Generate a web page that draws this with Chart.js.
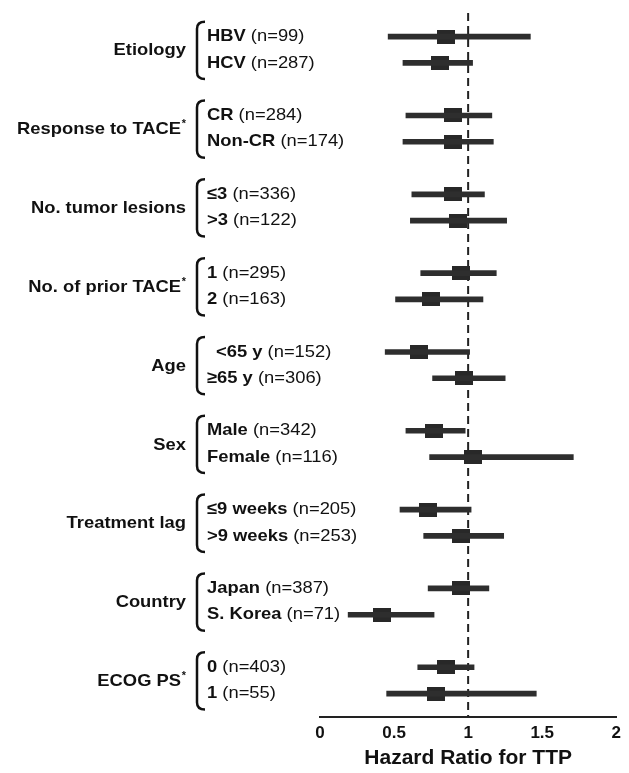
<!DOCTYPE html>
<html>
<head>
<meta charset="utf-8">
<script src="https://cdn.jsdelivr.net/npm/chart.js@4"></script>
<style>
  html, body { margin: 0; padding: 0; background: #fff; }
  #wrap { width: 629px; height: 773px; }
</style>
</head>
<body>
<div id="wrap"><canvas id="myChart"></canvas></div>
<script>
// groups and subgroups, top to bottom
var groups = ["Etiology", "Response to TACE", "No. tumor lesions", "No. of prior TACE", "Age", "Sex", "Treatment lag", "Country", "ECOG PS"];
var groupStar = [false, true, false, true, false, false, false, false, true];
var subgroups = ["HBV", "HCV", "CR", "Non-CR", "≤3", ">3", "1", "2", "<65 y", "≥65 y", "Male", "Female", "≤9 weeks", ">9 weeks", "Japan", "S. Korea", "0", "1"];
var counts = [99, 287, 284, 174, 336, 122, 295, 163, 152, 306, 342, 116, 205, 253, 387, 71, 403, 55];
var hr    = [0.85, 0.81, 0.90, 0.90, 0.90, 0.93, 0.95, 0.75, 0.67, 0.97, 0.77, 1.03, 0.73, 0.95, 0.95, 0.42, 0.85, 0.78];
var lower = [0.46, 0.56, 0.58, 0.56, 0.62, 0.61, 0.68, 0.51, 0.44, 0.76, 0.58, 0.74, 0.54, 0.70, 0.73, 0.19, 0.66, 0.45];
var upper = [1.42, 1.03, 1.16, 1.17, 1.11, 1.26, 1.19, 1.10, 1.01, 1.25, 0.98, 1.71, 1.02, 1.24, 1.14, 0.77, 1.04, 1.46];
var xTicks = [0, 0.5, 1, 1.5, 2];
var xTitle = "Hazard Ratio for TTP";

// each group takes 3 slots, the third one is the gap
function rowIndex(i) {
  return Math.floor(i / 2) * 3 + (i % 2);
}

var ciData = subgroups.map(function (s, i) {
  return { x: [lower[i], upper[i]], y: rowIndex(i) };
});
var hrData = subgroups.map(function (s, i) {
  return { x: hr[i], y: rowIndex(i) };
});

// rectangular marker
var marker = document.createElement("canvas");
marker.width = 18;
marker.height = 14;
var mctx = marker.getContext("2d");
mctx.fillStyle = "#282828";
mctx.fillRect(0, 0, 18, 14);

var FONT = "'Liberation Sans', Arial, Helvetica, sans-serif";
var STRETCH = 1.08; // text in the original is a little wide

var refLine = {
  id: "refLine",
  beforeDatasetsDraw: function (chart) {
    var ctx = chart.ctx, x = chart.scales.x.getPixelForValue(1), a = chart.chartArea;
    ctx.save();
    ctx.strokeStyle = "#222";
    ctx.lineWidth = 2;
    ctx.setLineDash([8, 5]);
    ctx.beginPath();
    ctx.moveTo(x, a.top);
    ctx.lineTo(x, a.bottom);
    ctx.stroke();
    ctx.restore();
  }
};

function wideText(ctx, txt, x, y, align) {
  ctx.save();
  ctx.translate(x, y);
  ctx.scale(STRETCH, 1);
  ctx.textAlign = align;
  ctx.fillText(txt, 0, 0);
  ctx.restore();
  return ctx.measureText(txt).width * STRETCH;
}

var sideLabels = {
  id: "sideLabels",
  afterDraw: function (chart) {
    var ctx = chart.ctx, y = chart.scales.y;
    ctx.save();
    ctx.fillStyle = "#111";
    ctx.textBaseline = "middle";
    subgroups.forEach(function (s, i) {
      var py = y.getPixelForValue(rowIndex(i));
      var x0 = (s === "<65 y") ? 216 : 207;
      ctx.font = "bold 17px " + FONT;
      var w = wideText(ctx, s + " ", x0, py, "left");
      ctx.font = "17px " + FONT;
      wideText(ctx, "(n=" + counts[i] + ")", x0 + w, py, "left");
    });
    groups.forEach(function (g, k) {
      var y1 = y.getPixelForValue(k * 3), y2 = y.getPixelForValue(k * 3 + 1);
      var mid = (y1 + y2) / 2 + 1;
      var right = 186;
      if (groupStar[k]) {
        ctx.font = "bold 10px " + FONT;
        wideText(ctx, "*", right, mid - 5, "right");
        right -= 5;
      }
      ctx.font = "bold 17px " + FONT;
      wideText(ctx, g, right, mid, "right");
      // bracket
      var top = y1 - 15, bot = y2 + 16, bx = 197;
      ctx.strokeStyle = "#111";
      ctx.lineWidth = 2.5;
      ctx.beginPath();
      ctx.moveTo(bx + 8, top);
      ctx.quadraticCurveTo(bx, top, bx, top + 7);
      ctx.lineTo(bx, bot - 7);
      ctx.quadraticCurveTo(bx, bot, bx + 8, bot);
      ctx.stroke();
    });
    ctx.restore();
  }
};

var chart = new Chart("myChart", {
  data: {
    datasets: [
      { type: "bar", data: ciData, indexAxis: "y", backgroundColor: "#2e2e2e",
        barThickness: 5, borderWidth: 0, borderSkipped: false },
      { type: "scatter", data: hrData, pointStyle: marker, pointRadius: 9, pointHoverRadius: 9 }
    ]
  },
  options: {
    responsive: true,
    maintainAspectRatio: false,
    animation: false,
    layout: { padding: { left: 320, right: 10, top: 13, bottom: 6 } },
    plugins: { legend: { display: false }, tooltip: { enabled: false } },
    scales: {
      x: {
        type: "linear",
        min: 0, max: 2,
        offset: false,
        afterBuildTicks: function (axis) {
          axis.ticks = xTicks.map(function (v) { return { value: v }; });
        },
        grid: { display: false, drawTicks: false },
        border: { display: true, color: "#222", width: 2 },
        ticks: { color: "#111", padding: 8, callback: function (v) { return String(v); },
                 font: { family: FONT, size: 17, weight: "bold", lineHeight: 1 } },
        title: { display: true, text: xTitle, color: "#111", padding: { top: 0, bottom: 0 },
                 font: { family: FONT, size: 21, weight: "bold", lineHeight: 0.8 } }
      },
      y: {
        type: "linear",
        display: false,
        reverse: true,
        offset: false,
        min: -0.9, max: 25.9
      }
    }
  },
  plugins: [refLine, sideLabels]
});
</script>
</body>
</html>
